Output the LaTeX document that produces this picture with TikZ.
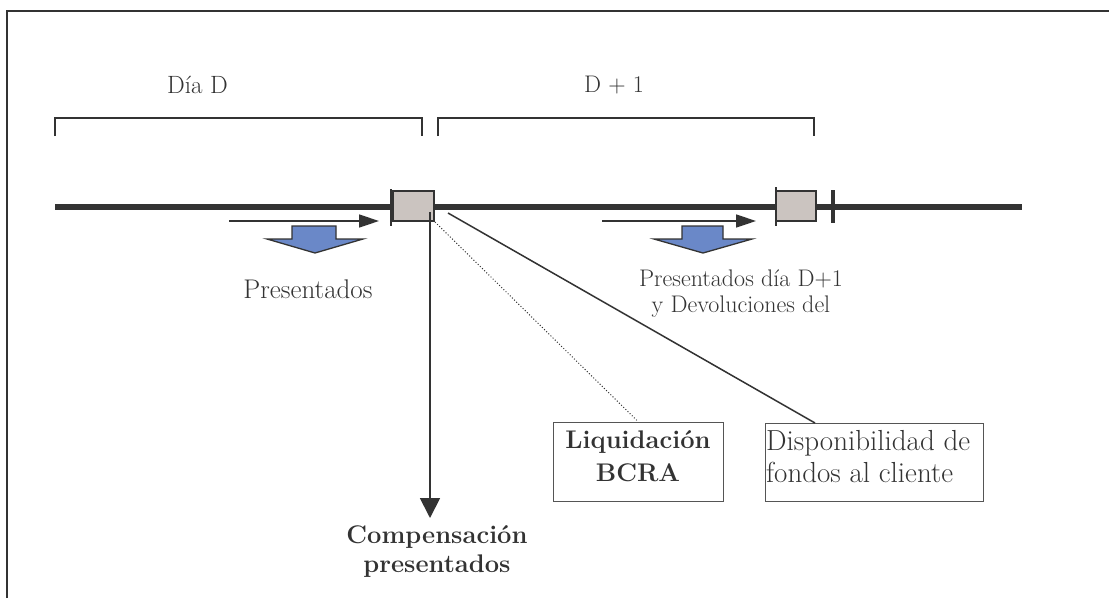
\documentclass[tikz,border=0pt]{standalone}
\usetikzlibrary{arrows.meta}
\definecolor{ink}{HTML}{333333}
\definecolor{boxfill}{HTML}{CBC4C0}
\definecolor{bluearrow}{HTML}{6A88C8}
\definecolor{boxline}{HTML}{555555}
\tikzset{
  txt/.style={text=ink, font=\fontsize{24}{28}\selectfont, inner sep=0pt},
  boldtxt/.style={text=ink, font=\bfseries\fontsize{25.5}{29}\selectfont, inner sep=0pt},
  thinline/.style={draw=ink, line width=1.5pt},
  arr/.style={draw=ink, line width=1.5pt, -{Triangle[length=20pt,width=13pt]}},
  varr/.style={draw=ink, line width=1.8pt, -{Triangle[length=20pt,width=20pt]}},
  gbox/.style={draw=ink, line width=2pt, fill=boxfill, inner sep=0pt},
  lbox/.style={draw=boxline, line width=1pt, inner sep=0pt},
  blockarrow/.style={fill=bluearrow, draw=ink, line width=1.3pt, line join=miter},
}
\begin{document}
\begin{tikzpicture}[x=1pt,y=-1pt]
\useasboundingbox (0,0) rectangle (1109,598);
\fill[white] (0,0) rectangle (1109,598);
% frame (partly visible)
\draw[ink, line width=2.5pt] (7,598) -- (7,11) -- (1109,11);

% labels of periods
\node[txt, font=\fontsize{25}{30}\selectfont, anchor=base] (diaD) at (197.5,93) {Día D};
\node[txt, anchor=base] (dmas1) at (614,92) {D + 1};

% brackets
\draw[thinline] (55,136) -- (55,118) -- (422,118) -- (422,136);
\draw[thinline] (438,136) -- (438,118) -- (814,118) -- (814,136);

% timeline
\draw[ink, line width=6pt] (55,207) -- (1022,207);
\draw[ink, line width=2.5pt] (391,189) -- (391,226);
\draw[ink, line width=2.5pt] (776,187) -- (776,226);
\draw[ink, line width=4pt] (833,190) -- (833,223);

% boxes on timeline
\node[gbox, minimum width=41pt, minimum height=30pt] (b1) at (413.5,206) {};
\node[gbox, minimum width=40pt, minimum height=30pt] (b2) at (796,206) {};

% horizontal arrows
\coordinate (a1s) at (229,221);
\coordinate (a1e) at (379,221);
\coordinate (a2s) at (602,221);
\coordinate (a2e) at (756,221);
\draw[arr] (a1s) -- (a1e);
\draw[arr] (a2s) -- (a2e);

% blue block arrows
\draw[blockarrow] (292,226) -- (336,226) -- (336,239) -- (363,239) -- (315,253) -- (267,239) -- (292,239) -- cycle;
\draw[blockarrow] (682,226) -- (723,226) -- (723,239) -- (752,239) -- (703,253) -- (654,239) -- (682,239) -- cycle;

% texts under arrows
\node[txt, font=\fontsize{27}{30}\selectfont, anchor=base] (pres) at (308,298) {Presentados};
\node[txt, align=center, font=\fontsize{24}{25.5}\selectfont, anchor=north] (pres2) at (741,270) {Presentados día D+1\\y Devoluciones del};

% lower boxes
\node[lbox, minimum width=170pt, minimum height=79pt] (liq) at (638,461.5) {};
\node[boldtxt, align=center, anchor=north, font=\bfseries\fontsize{25.5}{33}\selectfont] (liqtext) at (638,430) {Liquidación\\BCRA};
\node[lbox, minimum width=218pt, minimum height=78pt] (disp) at (874,462) {};
\node[txt, align=left, anchor=north west, font=\fontsize{29}{32}\selectfont] (disptext) at (766,430) {Disponibilidad de\\fondos al cliente};

% compensation
\node[boldtxt, align=center, anchor=north] (comp) at (437,525) {Compensación\\presentados};

% connectors
\coordinate (vstart) at (430,212);
\coordinate (vend) at (430,518);
\draw[varr] (vstart) -- (vend);
\draw[ink, line width=1pt, dotted] (b1.south east) -- (liq.north);
\coordinate (dstart) at (448,213);
\coordinate (disptop) at (815,423);
\draw[ink, line width=1.5pt] (dstart) -- (disptop);
\end{tikzpicture}
\end{document}
